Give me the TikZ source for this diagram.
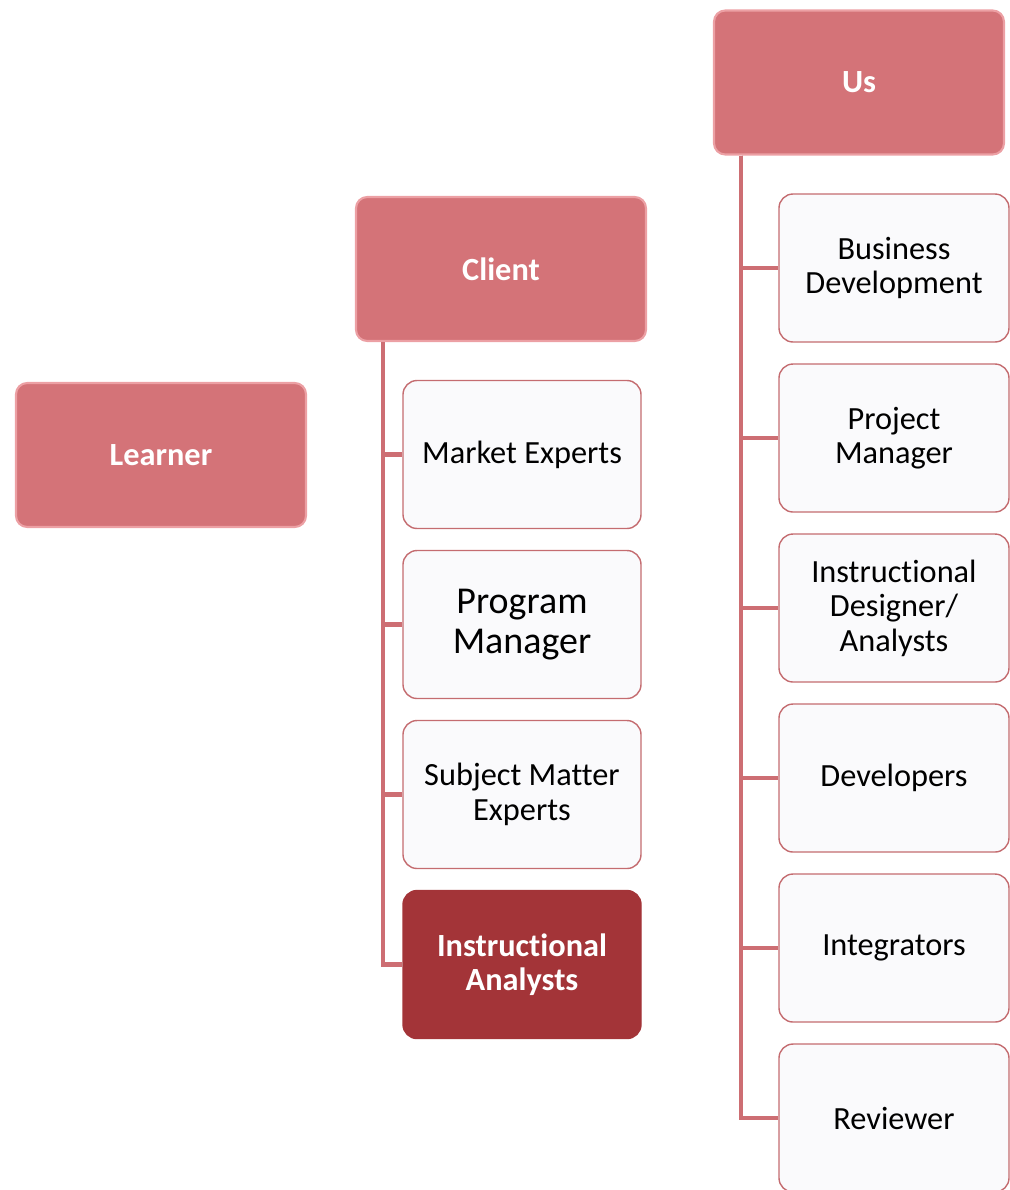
\documentclass[tikz,border=0pt]{standalone}
\usepackage{fontspec}
\setmainfont{Carlito}[Ligatures=NoCommon]
\usepackage{tikz}
\usetikzlibrary{positioning}

\definecolor{headred}{RGB}{212,115,120}
\definecolor{headrim}{RGB}{236,160,164}
\definecolor{darkred}{RGB}{163,52,56}
\definecolor{linkred}{RGB}{205,110,115}
\definecolor{boxrim}{RGB}{196,108,112}
\definecolor{boxfill}{RGB}{250,250,252}

\begin{document}
\begin{tikzpicture}
	[node distance=0.515cm,
		head node/.style={rectangle,rounded corners=8pt,fill=headred,draw=headrim,line width=1.5pt,minimum width=7.25cm,minimum height=3.6cm,text=white,font=\fontsize{23}{24.5}\selectfont\bfseries},
		role node/.style={rectangle,rounded corners=10pt,fill=boxfill,draw=boxrim,line width=1pt,minimum width=5.95cm,minimum height=3.7cm,align=center,font=\fontsize{23}{24.5}\selectfont},
		us node/.style={role node,minimum width=5.75cm},
		link/.style={draw=linkred,line width=3pt}]

	\useasboundingbox (0,0) rectangle (25.25,-29.75);

	% heads
	\node[head node] (Us)      at (21.475,-2.0625) {Us};
	\node[head node] (Client)  at (12.525,-6.725)  {Client};
	\node[head node] (Learner) at (4.025,-11.375)  {Learner};

	% client side
	\node[role node] (ME) at (13.05,-11.3625) {Market Experts};
	\node[role node, font=\fontsize{27}{28.5}\selectfont] [below=of ME] (PM) {Program\\Manager};
	\node[role node] [below=of PM] (SME) {Subject Matter\\Experts};
	\node[role node, fill=darkred, draw=darkred, text=white, font=\fontsize{23}{24.5}\selectfont\bfseries] [below=of SME] (IA) {Instructional\\Analysts};

	% our side
	\node[us node] (BD) at (22.35,-6.7) {Business\\Development};
	\node[us node] [below=of BD] (PrM) {Project\\Manager};
	\node[us node] [below=of PrM] (ID) {Instructional\\Designer/\\Analysts};
	\node[us node] [below=of ID] (Dev) {Developers};
	\node[us node] [below=of Dev] (Int) {Integrators};
	\node[us node] [below=of Int] (Rev) {Reviewer};

	\foreach \n in {ME,PM,SME,IA}
		\draw[link] ([xshift=0.7cm]Client.south west) |- (\n.west);
	\foreach \n in {BD,PrM,ID,Dev,Int,Rev}
		\draw[link] ([xshift=0.7cm]Us.south west) |- (\n.west);

\end{tikzpicture}
\end{document}
